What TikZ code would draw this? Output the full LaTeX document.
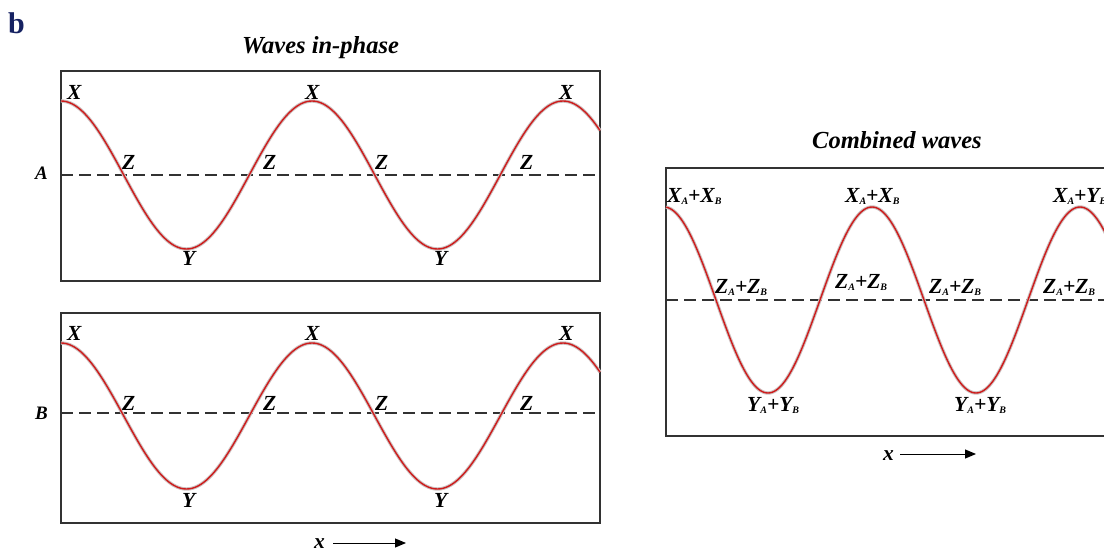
\documentclass[tikz,border=0pt]{standalone}
\usepackage{fontspec}
\setmainfont{Liberation Serif}
\usetikzlibrary{arrows.meta}
\definecolor{wave}{RGB}{205,28,28}
\definecolor{halocol}{RGB}{205,192,192}
\definecolor{framecol}{RGB}{50,50,50}
\definecolor{navy}{RGB}{22,34,98}
\newcommand\sbs[1]{\raisebox{-0.3ex}{\fontsize{10}{10}\selectfont #1}}
\begin{document}
\begin{tikzpicture}[x=1pt,y=-1pt,
  boxline/.style={draw=framecol, line width=1.4pt},
  midline/.style={draw=framecol, line width=1.1pt, dash pattern=on 12pt off 6pt},
  halo/.style={draw=halocol, line width=3.4pt},
  wavecurve/.style={draw=wave, line width=1.4pt},
  lab/.style={font=\fontsize{21.5}{21.5}\selectfont\bfseries\itshape, inner sep=0pt, anchor=base west},
  ttl/.style={font=\fontsize{24.5}{24.5}\selectfont\bfseries\itshape, inner sep=0pt, anchor=base west},
  arr/.style={draw=black, line width=1pt, -{Triangle[length=11pt,width=9pt]}}]
\useasboundingbox (0,0) rectangle (1104,554);
% panel letter
\node[font=\fontsize{30}{30}\selectfont\bfseries, text=navy, inner sep=0pt, anchor=base west] (b) at (8,33) {b};
% titles
\node[ttl] (t1) at (242,53) {Waves in-phase};
\node[ttl] (t2) at (812,148) {Combined waves};
% ---------- panel A ----------
\draw[boxline] (61,71) rectangle (600,281);
\draw[midline] (61,175) -- (600,175);
\draw[halo] plot[domain=61:600, samples=220, smooth] (\x,{175-74*cos((\x-61)/251*360)});
\draw[wavecurve] plot[domain=61:600, samples=220, smooth] (\x,{175-74*cos((\x-61)/251*360)});
\node[lab, font=\fontsize{19}{19}\selectfont\bfseries\itshape] (la) at (35,179) {A};
\node[lab] (ax1) at (67,99) {X};
\node[lab] (ax2) at (305,99) {X};
\node[lab] (ax3) at (559,99) {X};
\node[lab] (az1) at (122,169) {Z};
\node[lab] (az2) at (263,169) {Z};
\node[lab] (az3) at (375,169) {Z};
\node[lab] (az4) at (520,169) {Z};
\node[lab] (ay1) at (182,265) {Y};
\node[lab] (ay2) at (434,265) {Y};
% ---------- panel B ----------
\draw[boxline] (61,313) rectangle (600,523);
\draw[midline] (61,413) -- (600,413);
\draw[halo] plot[domain=61:600, samples=220, smooth] (\x,{416-73*cos((\x-61)/251*360)});
\draw[wavecurve] plot[domain=61:600, samples=220, smooth] (\x,{416-73*cos((\x-61)/251*360)});
\node[lab, font=\fontsize{19}{19}\selectfont\bfseries\itshape] (lb) at (35,419) {B};
\node[lab] (bx1) at (67,340) {X};
\node[lab] (bx2) at (305,340) {X};
\node[lab] (bx3) at (559,340) {X};
\node[lab] (bz1) at (122,410) {Z};
\node[lab] (bz2) at (263,410) {Z};
\node[lab] (bz3) at (375,410) {Z};
\node[lab] (bz4) at (520,410) {Z};
\node[lab] (by1) at (182,507) {Y};
\node[lab] (by2) at (434,507) {Y};
% x arrow left
\node[lab] (xl) at (314,548) {x};
\coordinate (xls) at (333,543);
\coordinate (xle) at (406,543);
\draw[arr] (xls) -- (xle);
% ---------- combined panel ----------
\begin{scope}
\clip (0,0) rectangle (1104,554);
\draw[boxline] (666,168) rectangle (1130,436);
\draw[midline] (666,300) -- (1130,300);
\draw[halo] plot[domain=666:1110, samples=240, smooth] (\x,{300-93*cos((\x-664)/208*360)});
\draw[wavecurve] plot[domain=666:1110, samples=240, smooth] (\x,{300-93*cos((\x-664)/208*360)});
\end{scope}
\node[lab] (cx1) at (667,202) {X\sbs{A}+X\sbs{B}};
\node[lab] (cx2) at (845,202) {X\sbs{A}+X\sbs{B}};
\node[lab] (cx3) at (1053,202) {X\sbs{A}+Y\sbs{B}};
\node[lab] (cz1) at (715,293) {Z\sbs{A}+Z\sbs{B}};
\node[lab] (cz2) at (835,288) {Z\sbs{A}+Z\sbs{B}};
\node[lab] (cz3) at (929,293) {Z\sbs{A}+Z\sbs{B}};
\node[lab] (cz4) at (1043,293) {Z\sbs{A}+Z\sbs{B}};
\node[lab] (cy1) at (747,411) {Y\sbs{A}+Y\sbs{B}};
\node[lab] (cy2) at (954,411) {Y\sbs{A}+Y\sbs{B}};
% x arrow right
\node[lab] (xr) at (883,460) {x};
\coordinate (xrs) at (900,454);
\coordinate (xre) at (976,454);
\draw[arr] (xrs) -- (xre);
\end{tikzpicture}
\end{document}
